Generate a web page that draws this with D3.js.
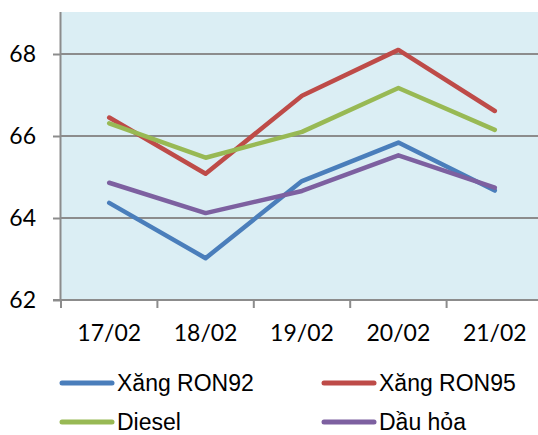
<!DOCTYPE html>
<html><head><meta charset="utf-8">
<script src="https://cdn.jsdelivr.net/npm/d3@7"></script>
<style>body{margin:0;background:#fff}svg{display:block}</style>
</head><body>
<svg id="c" width="538" height="435"></svg>
<script>
const categories = ["17/02","18/02","19/02","20/02","21/02"];
const ron92 = [64.37, 63.02, 64.90, 65.84, 64.67];
const ron95 = [66.45, 65.08, 66.98, 68.10, 66.61];
const diesel = [66.31, 65.47, 66.10, 67.17, 66.15];
const dauhoa = [64.86, 64.12, 64.66, 65.53, 64.74];
const yTicks = [62, 64, 66, 68];
const seriesNames = ["Xăng RON92","Xăng RON95","Diesel","Dầu hỏa"];

const series = [
  {name: seriesNames[0], values: ron92, color: "#4a7ebb"},
  {name: seriesNames[1], values: ron95, color: "#be4b48"},
  {name: seriesNames[2], values: diesel, color: "#98b954"},
  {name: seriesNames[3], values: dauhoa, color: "#7d60a0"}
];

const svg = d3.select("#c");
const L = 61, R = 543, T = 13, B = 300;
const x = d3.scaleBand().domain(categories).range([L, R]).paddingInner(0).paddingOuter(0);
const y = d3.scaleLinear().domain([62, 69]).range([B, T]);

svg.append("rect").attr("x", L).attr("y", T - 1).attr("width", R - L).attr("height", B - T + 1).attr("fill", "#dbeef4");

// gridlines
svg.append("g").selectAll("line").data(yTicks.filter(d => d > 62)).join("line")
  .attr("x1", L).attr("x2", R).attr("y1", d => y(d)).attr("y2", d => y(d))
  .attr("stroke", "#8c8c8c").attr("stroke-width", 2);

// y axis
const yAxis = d3.axisLeft(y).tickValues(yTicks).tickSize(8).tickPadding(17).tickFormat(d3.format("d"));
const gy = svg.append("g").attr("transform", `translate(${L},0)`).call(yAxis);
gy.select(".domain").attr("d", `M-0.5,${T-1}V${B}`).attr("stroke", "#8c8c8c").attr("stroke-width", 2);
gy.selectAll(".tick line").attr("stroke", "#8c8c8c").attr("stroke-width", 2);
gy.selectAll(".tick text").attr("font-family", "Lato").attr("font-size", 23).attr("fill", "#000");

// x axis
svg.append("line").attr("x1", L - 8).attr("x2", R).attr("y1", B).attr("y2", B).attr("stroke", "#8c8c8c").attr("stroke-width", 2);
const bounds = categories.map(c => x(c)).concat([x(categories[categories.length-1]) + x.bandwidth()]);
svg.append("g").selectAll("line").data(bounds).join("line")
  .attr("x1", d => d).attr("x2", d => d).attr("y1", B).attr("y2", B + 8)
  .attr("stroke", "#8c8c8c").attr("stroke-width", 2);
svg.append("g").selectAll("text").data(categories).join("text")
  .attr("x", d => x(d) + x.bandwidth() / 2).attr("y", 341)
  .attr("text-anchor", "middle").attr("font-family", "Lato").attr("font-size", 23).attr("fill", "#000")
  .text(d => d);

// lines
const line = d3.line().x((d, i) => x(categories[i]) + x.bandwidth() / 2).y(d => y(d));
svg.append("g").selectAll("path").data(series).join("path")
  .attr("d", d => line(d.values)).attr("fill", "none")
  .attr("stroke", d => d.color).attr("stroke-width", 4.5)
  .attr("stroke-linejoin", "round").attr("stroke-linecap", "round");

// legend
const legPos = [[60, 383], [322, 383], [60, 422], [322, 422]];
const lg = svg.append("g").selectAll("g").data(series).join("g")
  .attr("transform", (d, i) => `translate(${legPos[i][0]},${legPos[i][1]})`);
lg.append("line").attr("x1", 2).attr("x2", 52).attr("y1", 0).attr("y2", 0)
  .attr("stroke", d => d.color).attr("stroke-width", 5).attr("stroke-linecap", "round");
lg.append("text").attr("x", 57).attr("y", 8).attr("font-family", "Liberation Sans, Arial").attr("font-size", 23).attr("fill", "#000")
  .text(d => d.name);
</script>
</body></html>
